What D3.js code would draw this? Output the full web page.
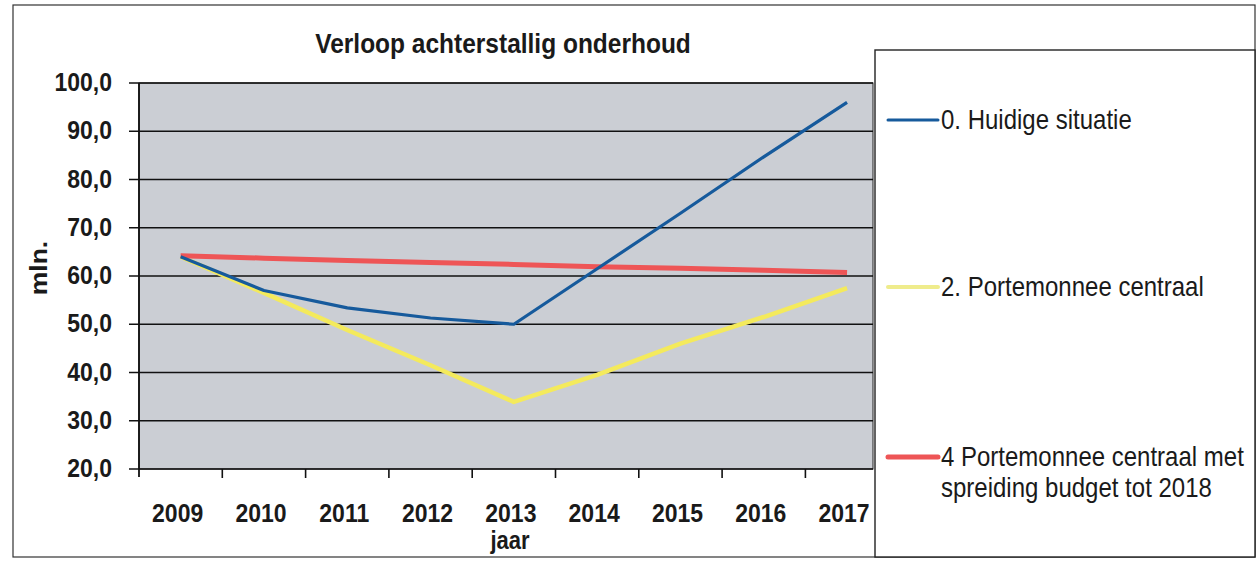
<!DOCTYPE html>
<html>
<head>
<meta charset="utf-8">
<script src="https://cdn.jsdelivr.net/npm/d3@7/dist/d3.min.js"></script>
<style>
  body { margin: 0; background: #fff; }
  svg text { font-family: "Liberation Sans", Arial, sans-serif; fill: #1a1a1a; }
</style>
</head>
<body>
<div id="chart"></div>
<script>
// Data
const years = ['2009', '2010', '2011', '2012', '2013', '2014', '2015', '2016', '2017'];
const huidige = [64.0, 57.0, 53.4, 51.3, 50.0, 61.5, 73.0, 84.7, 96.0];
const portemonnee = [64.0, 56.5, 48.8, 41.5, 33.9, 39.5, 46.0, 51.5, 57.5];
const spreiding = [64.2, 63.7, 63.2, 62.8, 62.4, 61.9, 61.6, 61.2, 60.7];
const yTicks = [20, 30, 40, 50, 60, 70, 80, 90, 100];
const seriesNames = ['0. Huidige situatie', '2. Portemonnee centraal', '4 Portemonnee centraal met|spreiding budget tot 2018'];

document.addEventListener('DOMContentLoaded', function() {
    const width = 1258, height = 565;
    const stretch = 1.15; // scanned text is a bit taller than wide

    const svg = d3.select('#chart')
        .append('svg')
        .attr('width', width)
        .attr('height', height);

    // Outer chart border
    svg.append('rect')
        .attr('x', 13).attr('y', 5)
        .attr('width', 1242).attr('height', 552)
        .attr('fill', 'none')
        .attr('stroke', '#333')
        .attr('stroke-width', 1.2);

    // Plot area
    const plotLeft = 139, plotRight = 873, plotTop = 83, plotBottom = 469;

    const x = d3.scaleBand()
        .domain(years)
        .range([plotLeft, plotLeft + 9 * 83.3])
        .padding(0);

    const y = d3.scaleLinear()
        .domain([20, 100])
        .range([plotBottom, plotTop]);

    svg.append('rect')
        .attr('x', plotLeft).attr('y', plotTop)
        .attr('width', plotRight - plotLeft)
        .attr('height', plotBottom - plotTop)
        .attr('fill', '#cbced4')
        .attr('stroke', '#222')
        .attr('stroke-width', 1);

    // Grid lines
    svg.append('g')
        .selectAll('line')
        .data(yTicks)
        .enter()
        .append('line')
        .attr('x1', plotLeft - 10)
        .attr('x2', plotRight)
        .attr('y1', d => y(d))
        .attr('y2', d => y(d))
        .attr('stroke', '#111')
        .attr('stroke-width', 1.6);

    // Y axis line
    svg.append('line')
        .attr('x1', plotLeft).attr('x2', plotLeft)
        .attr('y1', plotTop).attr('y2', plotBottom + 8)
        .attr('stroke', '#111')
        .attr('stroke-width', 1.8);

    // Y tick labels
    svg.append('g')
        .selectAll('text')
        .data(yTicks)
        .enter()
        .append('text')
        .attr('transform', d => `translate(112,${y(d) + 8}) scale(1,${stretch})`)
        .attr('text-anchor', 'end')
        .attr('font-size', '23px')
        .attr('font-weight', 'bold')
        .text(d => d3.format('.1f')(d).replace('.', ','));

    // X ticks at category boundaries
    svg.append('g')
        .selectAll('line')
        .data(years.slice(1))
        .enter()
        .append('line')
        .attr('x1', d => x(d))
        .attr('x2', d => x(d))
        .attr('y1', plotBottom)
        .attr('y2', plotBottom + 9)
        .attr('stroke', '#111')
        .attr('stroke-width', 1.6);

    // X tick labels
    svg.append('g')
        .selectAll('text')
        .data(years)
        .enter()
        .append('text')
        .attr('transform', d => `translate(${x(d) + x.bandwidth() / 2 - 3},522) scale(1,${stretch})`)
        .attr('text-anchor', 'middle')
        .attr('font-size', '23px')
        .attr('font-weight', 'bold')
        .text(d => d);

    // Axis titles
    svg.append('text')
        .attr('transform', `translate(510,549) scale(1,${stretch})`)
        .attr('text-anchor', 'middle')
        .attr('font-size', '22px')
        .attr('font-weight', 'bold')
        .text('jaar');

    svg.append('text')
        .attr('transform', `translate(47,268) rotate(-90) scale(${stretch},1)`)
        .attr('text-anchor', 'middle')
        .attr('font-size', '23px')
        .attr('font-weight', 'bold')
        .text('mln.');

    // Title
    svg.append('text')
        .attr('transform', `translate(503,53) scale(1,1.1)`)
        .attr('text-anchor', 'middle')
        .attr('font-size', '24.5px')
        .attr('font-weight', 'bold')
        .text('Verloop achterstallig onderhoud');

    // Lines
    const line = d3.line()
        .x((d, i) => x(years[i]) + x.bandwidth() / 2)
        .y(d => y(d));

    const series = [
        { values: spreiding, color: '#ee5556', width: 5 },
        { values: portemonnee, color: '#f4ea5c', width: 4.5 },
        { values: huidige, color: '#165a9c', width: 3.2 }
    ];

    // yellow first, red over it, blue on top
    const order = [series[1], series[0], series[2]];
    svg.append('g')
        .selectAll('path')
        .data(order)
        .enter()
        .append('path')
        .attr('d', d => line(d.values))
        .attr('fill', 'none')
        .attr('stroke', d => d.color)
        .attr('stroke-width', d => d.width)
        .attr('stroke-linejoin', 'round');

    // Legend
    const legend = svg.append('g');
    legend.append('rect')
        .attr('x', 875).attr('y', 50)
        .attr('width', 380).attr('height', 507)
        .attr('fill', '#fff')
        .attr('stroke', '#222')
        .attr('stroke-width', 1.4);

    const legendItems = [
        { name: seriesNames[0], color: '#165a9c', width: 3, ly: 120 },
        { name: seriesNames[1], color: '#efec8c', width: 4, ly: 287 },
        { name: seriesNames[2], color: '#ee5556', width: 5, ly: 457 }
    ];

    const item = legend.selectAll('.item')
        .data(legendItems)
        .enter()
        .append('g')
        .attr('class', 'item');

    item.append('line')
        .attr('x1', 888).attr('x2', 938)
        .attr('y1', d => d.ly).attr('y2', d => d.ly)
        .attr('stroke', d => d.color)
        .attr('stroke-width', d => d.width)
        .attr('stroke-linecap', 'round');

    item.each(function(d) {
        d.name.split('|').forEach((part, i) => {
            d3.select(this).append('text')
                .attr('transform', `translate(941,${d.ly + 9 + i * 31}) scale(1,${stretch})`)
                .attr('font-size', '24px')
                .text(part);
        });
    });
});
</script>
</body>
</html>
